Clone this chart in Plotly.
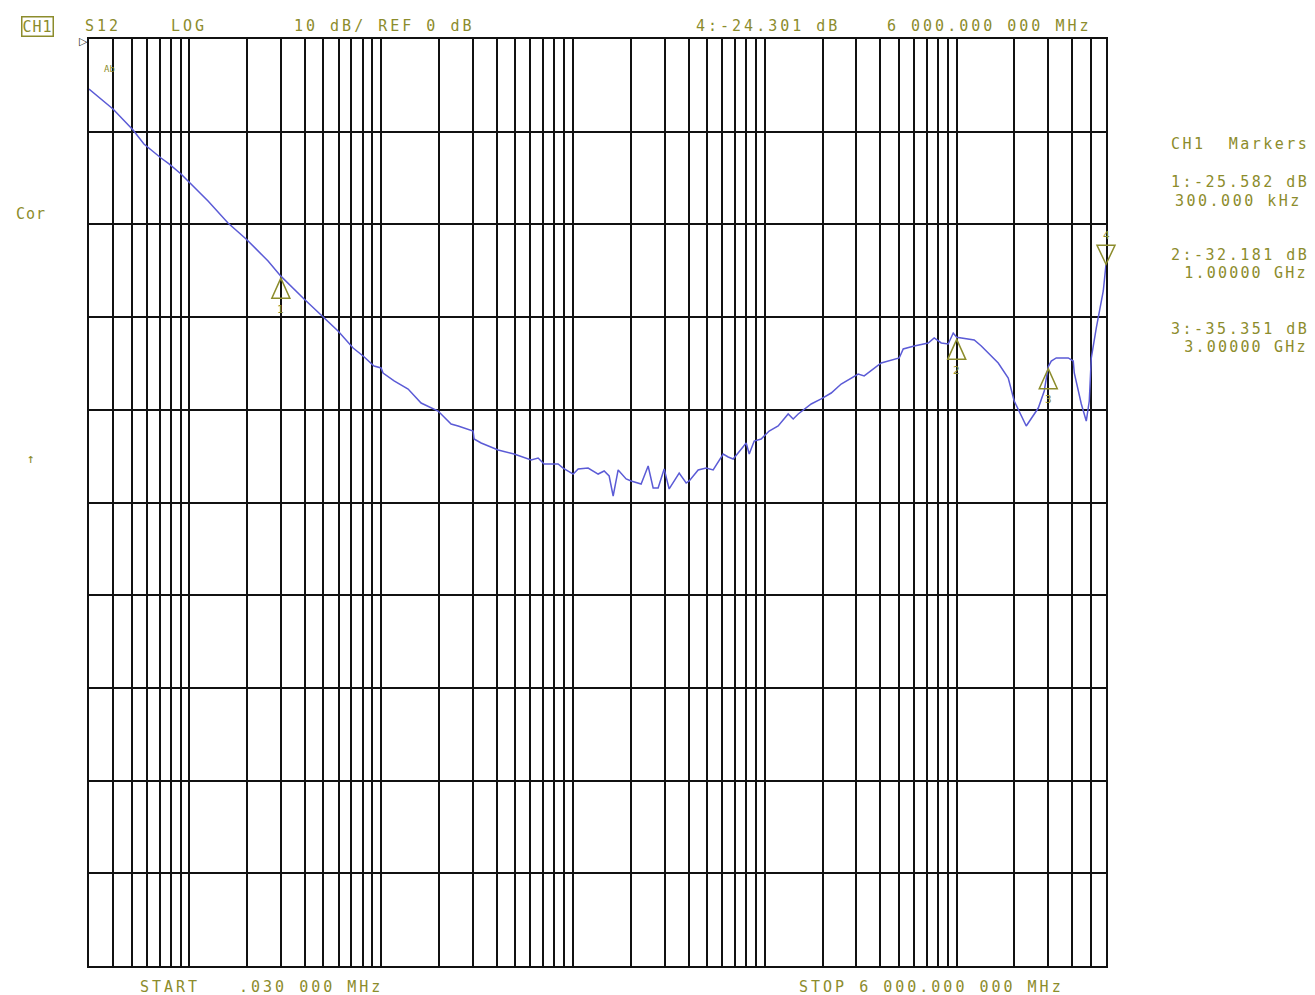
import math
import plotly.graph_objects as go

# ---- data (S12 transmission, log sweep) ----
freq_mhz = [0.030, 0.0400, 0.0509, 0.0580, 0.0712, 0.0784, 0.0905, 0.1021, 0.1252, 0.1591,
            0.1976, 0.2573, 0.300, 0.3964, 0.504, 0.596, 0.714, 0.805, 0.918, 0.999,
            1.023, 1.168, 1.382, 1.615, 1.980, 2.315, 2.518, 3.015, 3.05, 3.32,
            4.07, 4.93, 6.05, 6.58, 7.07, 8.36, 8.88, 10.02, 10.64, 11.99,
            13.52, 14.53, 15.43, 16.19, 17.19, 18.92, 20.09, 22.65, 24.64, 26.16,
            27.78, 29.86, 31.71, 35.76, 38.89, 40.33, 44.91, 49.44, 53.77, 60.64,
            64.38, 68.37, 79.92, 82.87, 88.00, 95.66, 105.3, 117.3, 132.3, 140.5,
            149.2, 174.4, 196.6, 221.7, 249.9, 306.5, 329.4, 404.1, 501.6, 526.3,
            600.5, 710.3, 763.1, 830.3, 903.0, 959.0, 1000.0, 1234, 1343, 1460,
            1646, 1856, 1994, 2304, 2662, 2859, 3000.0, 3110, 3303, 3816,
            4050, 4100, 4461, 4735, 4909, 5029, 5338, 5807, 6000.0]
s12_db = [-5.39, -7.55, -9.82, -11.33, -12.84, -13.48, -14.56, -15.64, -17.48, -19.85,
          -21.57, -23.95, -25.58, -28.05, -30.10, -31.50, -33.33, -34.20, -35.28, -35.49,
          -36.03, -36.89, -37.76, -39.27, -40.13, -41.53, -41.75, -42.29, -43.15, -43.58,
          -44.34, -44.77, -45.42, -45.20, -45.85, -45.85, -46.28, -46.93, -46.39, -46.28,
          -46.93, -46.60, -47.14, -49.30, -46.49, -47.46, -47.68, -48.00, -46.06, -48.44,
          -48.44, -46.39, -48.54, -46.82, -47.90, -47.68, -46.49, -46.28, -46.49, -44.77,
          -45.09, -45.31, -43.58, -44.77, -43.37, -43.15, -42.29, -41.75, -40.45, -40.99,
          -40.45, -39.37, -38.83, -38.19, -37.22, -36.14, -36.35, -34.95, -34.41, -33.44,
          -33.12, -32.79, -32.25, -32.79, -32.90, -31.72, -32.18, -32.47, -33.12, -33.87,
          -34.95, -36.57, -39.05, -41.75, -39.81, -37.97, -35.35, -34.74, -34.41, -34.41,
          -34.74, -36.03, -39.37, -41.21, -39.05, -34.41, -31.18, -27.18, -24.30]

marker_ids = ["1", "2", "3", "4"]
marker_freq_mhz = [0.3, 1000.0, 3000.0, 6000.0]
marker_db = [-25.582, -32.181, -35.351, -24.301]

start_mhz = 0.03
stop_mhz = 6000.0
ref_db = 0
db_per_div = 10
n_div = 10

# vertical grid: 1..9 x each decade inside the sweep
grid_freqs = []
for dec in range(-2, 4):
    for m in range(1, 10):
        f = m * 10 ** dec
        if start_mhz < f < stop_mhz:
            grid_freqs.append(f)

TXT = "#8c8c2c"
FONT = "DejaVu Sans Mono"

# page offset of the figure inside the browser (default body margin)
OFF = 7
FW, FH = 1315 - OFF, 995 - OFF
L, R, T, B = 88, 1105, 38, 965  # plot area in page pixels

fig = go.Figure()
fig.add_trace(go.Scatter(x=freq_mhz, y=s12_db, mode="lines",
                         line=dict(color="#5b5bd6", width=1.5), hoverinfo="skip"))

fig.update_layout(
    width=FW, height=FH,
    margin=dict(l=L - OFF, r=FW - (R - OFF), t=T - OFF, b=FH - (B - OFF), pad=0),
    paper_bgcolor="white", plot_bgcolor="white",
    showlegend=False,
    xaxis=dict(type="log", range=[math.log10(start_mhz), math.log10(stop_mhz)],
               tickvals=grid_freqs, showticklabels=False, ticks="",
               showgrid=True, gridcolor="#111111", gridwidth=1.6,
               showline=True, linecolor="#111111", linewidth=2, mirror=True,
               zeroline=False),
    yaxis=dict(range=[ref_db - n_div * db_per_div, ref_db], dtick=db_per_div,
               showticklabels=False, ticks="",
               showgrid=True, gridcolor="#111111", gridwidth=1.6,
               showline=True, linecolor="#111111", linewidth=2, mirror=True,
               zeroline=False),
)


def spaced(s, ls=3):
    return '<span style="letter-spacing:%spx">%s</span>' % (ls, s)


lo, hi = math.log10(start_mhz), math.log10(stop_mhz)

# marker triangles (apex on trace), pixel-sized shapes anchored at the marker positions
for mid, f, d in zip(marker_ids, marker_freq_mhz, marker_db):
    if mid == "4":
        path = "M0,0 L-9,19 L9,19 Z"
        ylab = 29
    else:
        path = "M0,-2 L-9,-22 L9,-22 Z"
        ylab = -33
    xfrac = (math.log10(f) - lo) / (hi - lo)
    fig.add_shape(type="path", xref="paper", yref="y", xsizemode="pixel", ysizemode="pixel",
                  xanchor=xfrac, yanchor=d, path=path,
                  line=dict(color=TXT, width=1.5), fillcolor="rgba(0,0,0,0)")
    fig.add_annotation(x=math.log10(f), y=d, xref="x", yref="y", text=mid,
                       showarrow=False, yshift=ylab,
                       font=dict(family=FONT, size=11, color=TXT))


def px(xp, yp, s, size=15, anchor="center", border=False, ls=3):
    kw = {}
    if border:
        kw = dict(bordercolor=TXT, borderwidth=1.5, borderpad=0)
    fig.add_annotation(x=(xp - L) / (R - L), y=(B - yp) / (B - T),
                       xref="paper", yref="paper", text=spaced(s, ls) if ls else s,
                       showarrow=False, xanchor=anchor, yanchor="middle",
                       font=dict(family=FONT, size=size, color=TXT), **kw)


px(36, 26, "CH1", 15, border=True, ls=1)
px(102, 25, "S12")
px(188, 25, "LOG")
px(383, 25, "10 dB/ REF 0 dB")
px(767, 25, "4:-24.301 dB")
px(988, 25, "6 000.000 000 MHz")

px(1168, 143, "CH1  Markers", anchor="left", ls=2.5)
px(1168, 181, "1:-25.582 dB", anchor="left", ls=2.5)
px(1172, 200, "300.000 kHz", anchor="left", ls=2.5)
px(1168, 254, "2:-32.181 dB", anchor="left", ls=2.5)
px(1170, 272, " 1.00000 GHz", anchor="left", ls=2.2)
px(1168, 328, "3:-35.351 dB", anchor="left", ls=2.5)
px(1170, 346, " 3.00000 GHz", anchor="left", ls=2.2)

px(30, 213, "Cor", ls=1)
px(30, 457, "↑", 13, ls=0)

px(169, 986, "START")
px(310, 986, ".030 000 MHz")
px(930, 986, "STOP 6 000.000 000 MHz")

px(108, 68, "Ab", 9, ls=0)
# reference level pointer at the left edge
fig.add_annotation(x=0, y=ref_db, xref="paper", yref="y", text="▷", showarrow=False,
                   xanchor="right", yanchor="top", xshift=1, yshift=6,
                   font=dict(family="DejaVu Sans", size=11, color="#222222"))

fig.write_html("out.html")
